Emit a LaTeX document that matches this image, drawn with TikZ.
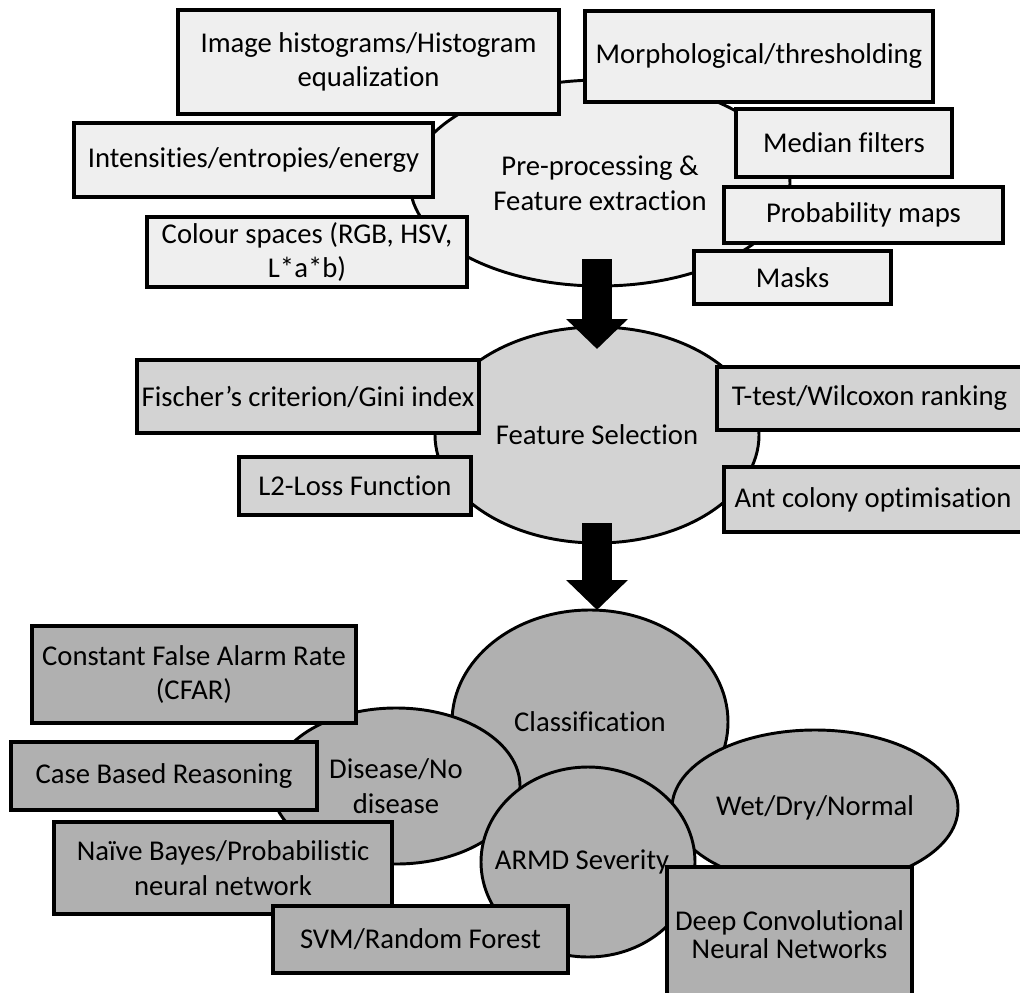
\documentclass[tikz,border=0pt]{standalone}
\usepackage{fontspec}
\setmainfont{Carlito}[Ligatures=NoCommon]
\usetikzlibrary{arrows.meta,shapes.geometric}
\definecolor{topfill}{RGB}{239,239,239}
\definecolor{midfill}{RGB}{211,211,211}
\definecolor{botfill}{RGB}{176,176,176}
\begin{document}
\begin{tikzpicture}[x=0.75pt,y=-0.75pt,
  every node/.style={font=\fontsize{21.5}{26}\selectfont, align=center, inner sep=0pt, text=black},
  wd/.style={minimum width=#1*0.75pt},
  ht/.style={minimum height=#1*0.75pt},
  box/.style={draw=black, line width=2.3pt, rectangle},
  oval/.style={draw=black, line width=2.2pt, ellipse},
  blockarrow/.style={line width=22.5pt, -{Triangle[length=22.5pt,width=45pt]}, draw=black}]
\clip (0,0) rectangle (1020,992);
\fill[white] (0,0) rectangle (1020,992);
% ---- top level ----
\node[oval, fill=topfill, wd=380, ht=206] (pre) at (600,183) {Pre-processing \&\\Feature extraction};
\node[box, fill=topfill, wd=381, ht=104] (img) at (368.5,62) {Image histograms/Histogram\\equalization};
\node[box, fill=topfill, wd=348, ht=91] (morph) at (759,56.5) {Morphological/thresholding};
\node[box, fill=topfill, wd=359, ht=74] (inten) at (253.5,160) {Intensities/entropies/energy};
\node[box, fill=topfill, wd=320, ht=70] (colour) at (307,252) {Colour spaces (RGB, HSV,\\L*a*b)};
\node[box, fill=topfill, wd=216, ht=68] (median) at (844,143) {Median filters};
\node[box, fill=topfill, wd=279, ht=56] (prob) at (863.5,215) {Probability maps};
\node[box, fill=topfill, wd=197, ht=53] (masks) at (792.5,277.5) {Masks};
% ---- middle level ----
\node[oval, fill=midfill, wd=324, ht=216] (fsel) at (597,435) {Feature Selection};
\node[box, fill=midfill, wd=342, ht=73] (fisch) at (308,396.5) {Fischer’s criterion/Gini index};
\node[box, fill=midfill, wd=305, ht=63] (ttest) at (869.5,398.5) {T-test/Wilcoxon ranking};
\node[box, fill=midfill, wd=232, ht=58] (ltwo) at (355,486) {L2-Loss Function};
\node[box, fill=midfill, wd=298, ht=65] (ant) at (873,499.5) {Ant colony optimisation};
\coordinate (a1s) at (597,259);
\coordinate (a1e) at (597,349);
\draw[blockarrow] (a1s) -- (a1e);
% ---- bottom level ----
\node[oval, fill=botfill, wd=276, ht=224] (cls) at (590,722) {Classification};
\node[oval, fill=botfill, wd=248, ht=156] (dis) at (396,786) {Disease/No\\disease};
\node[oval, fill=botfill, wd=286, ht=156] (wet) at (815,808) {Wet/Dry/Normal};
\node[oval, fill=botfill, wd=214, ht=190] (armd) at (588,862) {\makebox[0pt]{\hspace*{-9pt}ARMD Severity}};
\node[box, fill=botfill, wd=324, ht=97] (cfar) at (194,674.5) {Constant False Alarm Rate\\(CFAR)};
\node[box, fill=botfill, wd=306, ht=68] (cbr) at (164,776) {Case Based Reasoning};
\node[box, fill=botfill, wd=338, ht=92] (naive) at (223,868) {Naïve Bayes/Probabilistic\\neural network};
\node[box, fill=botfill, wd=295, ht=67] (svm) at (420.5,939.5) {SVM/Random Forest};
\node[box, fill=botfill, wd=245, ht=140] (deep) at (789.5,937) {\raisebox{4pt}{\shortstack{Deep Convolutional\\Neural Networks}}};
\coordinate (a2s) at (597,523);
\coordinate (a2e) at (597,610);
\draw[blockarrow] (a2s) -- (a2e);
\end{tikzpicture}
\end{document}
